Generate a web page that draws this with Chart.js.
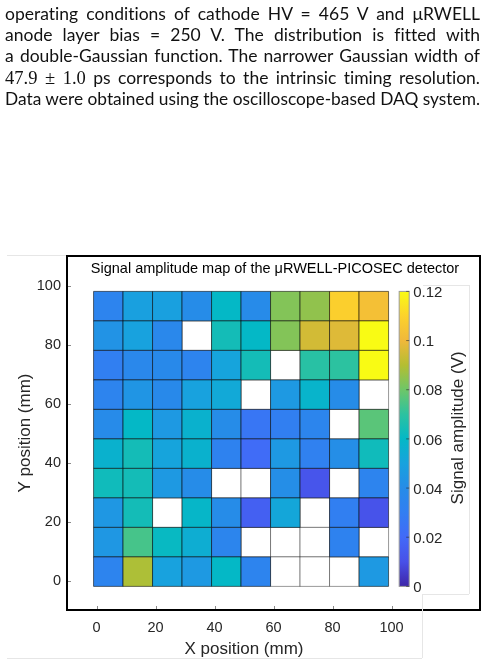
<!DOCTYPE html>
<html>
<head>
<meta charset="utf-8">
<script src="https://cdn.jsdelivr.net/npm/chart.js@4.4.1/dist/chart.umd.min.js"></script>
<style>
  html, body { margin: 0; padding: 0; background: #fff; }
  body { width: 488px; height: 668px; position: relative; overflow: hidden; }
  #caption { position: absolute; left: 5px; top: 3px; width: 475px; z-index: 2;
    font-family: Lato, "Noto Sans", sans-serif; font-size: 17.5px; line-height: 21.2px; color: #111;
    font-variant-ligatures: none; font-feature-settings: "liga" 0, "clig" 0, "dlig" 0; }
  #caption div { white-space: nowrap; }
  #caption span.ln { display: inline-block; transform-origin: 0 0; }
  .num { font-family: "Liberation Serif", "DejaVu Serif", serif; font-size: 1.06em; }
  #chart { position: absolute; left: 0; top: 0; }
  .faint { position: absolute; background: #e6e6e6; z-index: 1; }
</style>
</head>
<body>
<div id="caption">
  <div><span class="ln">operating conditions of cathode HV = 465 V and μRWELL</span></div>
  <div><span class="ln">anode layer bias = 250 V. The distribution is fitted with</span></div>
  <div><span class="ln">a double-Gaussian function. The narrower Gaussian width of</span></div>
  <div><span class="ln"><span class="num">47.9 ± 1.0</span> ps corresponds to the intrinsic timing resolution.</span></div>
  <div><span class="ln">Data were obtained using the oscilloscope-based DAQ system.</span></div>
</div>
<div class="faint" style="left:7px;top:255px;width:59px;height:1px"></div>
<div class="faint" style="left:7px;top:658px;width:415px;height:1px"></div>
<div class="faint" style="left:422px;top:594px;width:1px;height:64px"></div>
<div class="faint" style="left:423px;top:285px;width:46px;height:1px"></div>
<div class="faint" style="left:469px;top:285px;width:1px;height:309px"></div>
<div class="faint" style="left:423px;top:594px;width:46px;height:1px"></div>
<canvas id="chart" width="488" height="668"></canvas>
<script>
// cell centres (mm)
const xCenters = [4, 14, 24, 34, 44, 54, 64, 74, 84, 94];
const yCenters = [93, 83, 73, 63, 53, 43, 33, 23, 13, 3]; // top row first

// signal amplitude (V), rows top -> bottom, null = no data
const amplitude = [
  [0.034, 0.049, 0.049, 0.040, 0.060, 0.039, 0.083, 0.085, 0.109, 0.103],
  [0.043, 0.050, 0.037, null,  0.064, 0.060, 0.083, 0.095, 0.097, 0.120],
  [0.031, 0.037, 0.038, 0.034, 0.051, 0.064, null,  0.069, 0.070, 0.120],
  [0.034, 0.044, 0.038, 0.050, 0.053, null,  0.046, 0.058, 0.040, null ],
  [0.039, 0.060, 0.046, 0.057, 0.040, 0.026, 0.031, 0.035, null,  0.077],
  [0.057, 0.064, 0.051, 0.057, 0.033, 0.021, 0.046, 0.032, 0.041, 0.063],
  [0.063, 0.064, 0.046, 0.040, null,  null,  0.041, 0.012, null,  0.034],
  [0.045, 0.064, null,  0.059, 0.040, 0.016, 0.052, null,  0.031, 0.011],
  [0.045, 0.074, 0.061, 0.055, 0.035, null,  null,  null,  0.033, null ],
  [0.034, 0.089, 0.050, 0.046, 0.060, 0.034, null,  null,  null,  0.046]
];

const xTickValues = [0, 20, 40, 60, 80, 100];
const yTickValues = [0, 20, 40, 60, 80, 100];
const cbarTickValues = [0, 0.02, 0.04, 0.06, 0.08, 0.1, 0.12];
const cbarTickLabels = ['0', '0.02', '0.04', '0.06', '0.08', '0.1', '0.12'];
const cMin = 0, cMax = 0.12;

// parula-like colour map, evenly spaced from cMin to cMax
const parulaStops = [
  [62, 38, 168], [72, 80, 232], [66, 106, 248], [50, 126, 242], [38, 140, 232],
  [24, 162, 222], [4, 184, 198], [44, 194, 160], [110, 198, 104], [180, 190, 50],
  [240, 184, 58], [252, 210, 44], [249, 251, 20]
];

function parula(v) {
  let t = (v - cMin) / (cMax - cMin);
  t = Math.max(0, Math.min(1, t)) * (parulaStops.length - 1);
  const i = Math.min(Math.floor(t), parulaStops.length - 2);
  const f = t - i;
  const a = parulaStops[i], b = parulaStops[i + 1];
  const c = a.map((ch, k) => Math.round(ch + (b[k] - ch) * f));
  return `rgb(${c[0]},${c[1]},${c[2]})`;
}

// justify the caption lines
document.querySelectorAll('#caption span.ln').forEach((el) => {
  const target = 475;
  const w = el.getBoundingClientRect().width;
  if (w > target) {
    el.style.transform = `scaleX(${target / w})`;
  } else {
    const spaces = (el.textContent.match(/ /g) || []).length;
    el.style.wordSpacing = `${(target - w) / spaces}px`;
  }
});

const filled = [];
const empty = [];
amplitude.forEach((row, r) => {
  row.forEach((v, c) => {
    const p = { x: xCenters[c], y: yCenters[r], v };
    if (v === null) empty.push(p); else filled.push(p);
  });
});

const FONT = '"Liberation Sans", Arial, Helvetica, sans-serif';
const TXT = '#262626';

function cellRadius(context) {
  const s = context.chart.scales.x;
  const w = s.getPixelForValue(10) - s.getPixelForValue(0);
  return w / Math.SQRT2;
}

const decor = {
  id: 'decor',
  afterDraw(chart) {
    const { ctx, chartArea: a } = chart;
    const xs = chart.scales.x, ys = chart.scales.y;
    ctx.save();

    // frame
    ctx.strokeStyle = '#000';
    ctx.lineWidth = 2;
    ctx.strokeRect(a.left, a.top, a.right - a.left, a.bottom - a.top);

    // inward tick marks
    ctx.strokeStyle = '#8a8a8a';
    ctx.lineWidth = 1;
    xTickValues.forEach((v) => {
      const px = Math.round(xs.getPixelForValue(v)) + 0.5;
      ctx.beginPath(); ctx.moveTo(px, a.bottom - 1); ctx.lineTo(px, a.bottom - 4); ctx.stroke();
    });
    yTickValues.forEach((v) => {
      const py = Math.round(ys.getPixelForValue(v)) + 0.5;
      ctx.beginPath(); ctx.moveTo(a.left + 1, py); ctx.lineTo(a.left + 4, py); ctx.stroke();
    });

    // title
    ctx.fillStyle = '#000';
    ctx.font = `14.5px ${FONT}`;
    ctx.textAlign = 'center';
    ctx.textBaseline = 'middle';
    ctx.fillText('Signal amplitude map of the μRWELL-PICOSEC detector', (a.left + a.right) / 2 + 1.5, a.top + 13);

    // axis titles
    ctx.fillStyle = TXT;
    ctx.font = `17px ${FONT}`;
    ctx.textBaseline = 'alphabetic';
    ctx.fillText('X position (mm)', xs.getPixelForValue(50), 653.5);
    ctx.save();
    ctx.translate(29.5, ys.getPixelForValue(50));
    ctx.rotate(-Math.PI / 2);
    ctx.fillText('Y position (mm)', 0, 0);
    ctx.restore();

    // colour bar, spanning the cells vertically
    const yLo = Math.min(...yCenters) - 5, yHi = Math.max(...yCenters) + 5;
    const cy = (v) => ys.getPixelForValue(yLo + (v - cMin) / (cMax - cMin) * (yHi - yLo));
    const bx0 = xs.getPixelForValue(102.6), bx1 = xs.getPixelForValue(106);
    const bTop = cy(cMax), bBot = cy(cMin);
    const g = ctx.createLinearGradient(0, bBot, 0, bTop);
    parulaStops.forEach((c, i) => g.addColorStop(i / (parulaStops.length - 1), `rgb(${c[0]},${c[1]},${c[2]})`));
    ctx.fillStyle = g;
    ctx.fillRect(bx0, bTop, bx1 - bx0, bBot - bTop);
    ctx.strokeStyle = '#9a9a9a';
    ctx.lineWidth = 1;
    ctx.strokeRect(bx0, bTop, bx1 - bx0, bBot - bTop);

    ctx.font = `15px ${FONT}`;
    ctx.textAlign = 'left';
    ctx.textBaseline = 'middle';
    cbarTickValues.forEach((v, i) => {
      const py = cy(v);
      ctx.strokeStyle = 'rgba(40,40,40,0.6)';
      ctx.beginPath(); ctx.moveTo(bx1, py); ctx.lineTo(bx1 - 3, py); ctx.stroke();
      ctx.fillStyle = TXT;
      ctx.fillText(cbarTickLabels[i], bx1 + 4, py + 1.5);
    });

    ctx.font = `17px ${FONT}`;
    ctx.textAlign = 'center';
    ctx.textBaseline = 'alphabetic';
    ctx.save();
    ctx.translate(bx1 + 53.5, (bTop + bBot) / 2 - 11);
    ctx.rotate(-Math.PI / 2);
    ctx.fillText('Signal amplitude (V)', 0, 0);
    ctx.restore();

    ctx.restore();
  }
};

const tickFont = { family: FONT, size: 14.5 };

new Chart(document.getElementById('chart').getContext('2d'), {
  type: 'scatter',
  data: {
    datasets: [
      {
        label: 'amplitude',
        data: filled,
        pointStyle: 'rect',
        pointRadius: cellRadius,
        pointHoverRadius: cellRadius,
        backgroundColor: (context) => parula(context.raw.v),
        borderColor: 'rgba(0,0,0,0.55)',
        borderWidth: 1
      },
      {
        label: 'no data',
        data: empty,
        pointStyle: 'rect',
        pointRadius: cellRadius,
        pointHoverRadius: cellRadius,
        backgroundColor: '#ffffff',
        borderColor: 'rgba(0,0,0,0.4)',
        borderWidth: 1
      }
    ]
  },
  options: {
    responsive: false,
    animation: false,
    events: [],
    layout: { padding: { top: 256, right: 8, left: 0, bottom: 0 } },
    plugins: {
      legend: { display: false },
      tooltip: { enabled: false },
      title: { display: false }
    },
    scales: {
      x: {
        type: 'linear',
        min: -10,
        max: 130,
        afterFit(scale) { scale.height = 58; },
        afterBuildTicks(scale) { scale.ticks = xTickValues.map((v) => ({ value: v })); },
        grid: { display: false, drawTicks: false },
        border: { display: false },
        ticks: { padding: 9, font: tickFont, color: TXT, maxRotation: 0, autoSkip: false }
      },
      y: {
        type: 'linear',
        min: -10,
        max: 110,
        afterFit(scale) { scale.width = 67; },
        afterBuildTicks(scale) { scale.ticks = yTickValues.map((v) => ({ value: v })); },
        grid: { display: false, drawTicks: false },
        border: { display: false },
        ticks: { padding: 6, font: tickFont, color: TXT, autoSkip: false }
      }
    }
  },
  plugins: [decor]
});
</script>
</body>
</html>
